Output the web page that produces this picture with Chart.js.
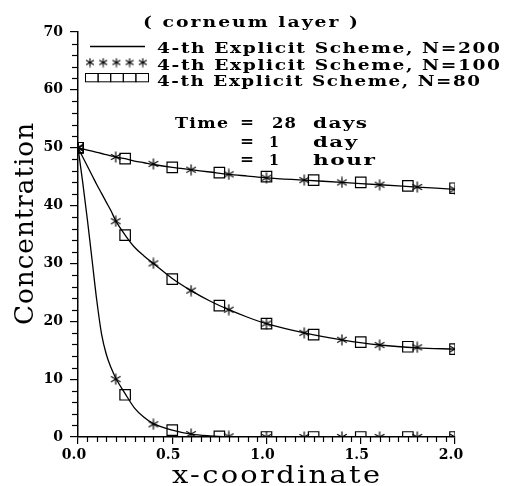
<!DOCTYPE html>
<html>
<head>
<meta charset="utf-8">
<script src="https://cdn.jsdelivr.net/npm/chart.js@4.4.0/dist/chart.umd.min.js"></script>
<style>
  html, body { margin: 0; padding: 0; background: #fff; }
</style>
</head>
<body>
<canvas id="chart" width="510" height="486"></canvas>
<script>
// ====== values ======
// solid line, N=200
const lineX   = [0, 0.025, 0.05, 0.075, 0.1, 0.125, 0.15, 0.175, 0.2, 0.25, 0.3, 0.35, 0.4, 0.5, 0.6, 0.7, 0.8, 0.9, 1.0, 1.2, 1.4, 1.6, 1.8, 2.0];
const line28d = [50, 49.8, 49.6, 49.4, 49.2, 49.0, 48.8, 48.6, 48.4, 48.1, 47.7, 47.4, 47.1, 46.6, 46.2, 45.8, 45.4, 45.1, 44.8, 44.4, 44.0, 43.6, 43.2, 42.8];
const line1d  = [50, 48.4, 46.8, 45.2, 43.6, 42.1, 40.6, 39.1, 37.4, 34.9, 32.8, 31.3, 30.0, 27.4, 25.3, 23.5, 22.0, 20.7, 19.6, 18.0, 16.8, 15.9, 15.4, 15.2];
const line1h  = [50, 44.0, 37.5, 30.5, 23.5, 17.8, 14.3, 12.0, 10.2, 7.5, 5.0, 3.4, 2.3, 1.2, 0.5, 0.2, 0.05, 0, 0, 0, 0, 0, 0, 0];

// stars, N=100
const starX   = [0, 0.2, 0.4, 0.6, 0.8, 1.0, 1.2, 1.4, 1.6, 1.8, 2.0];
const star28d = [50, 48.4, 47.2, 46.2, 45.4, 44.8, 44.4, 44.0, 43.6, 43.2, 42.8];
const star1d  = [50, 37.3, 30.0, 25.3, 22.0, 19.6, 18.0, 16.8, 15.9, 15.5, 15.2];
const star1h  = [50, 10.0, 2.2, 0.5, 0.1, 0, 0, 0, 0, 0, 0];

// squares, N=80
const squareX   = [0, 0.25, 0.5, 0.75, 1.0, 1.25, 1.5, 1.75, 2.0];
const square28d = [50, 48.1, 46.6, 45.7, 45.0, 44.4, 44.0, 43.4, 43.0];
const square1d  = [50, 34.9, 27.3, 22.7, 19.6, 17.7, 16.4, 15.6, 15.2];
const square1h  = [50, 7.3, 1.2, 0.1, 0, 0, 0, 0, 0];

const legendLabels = ["4-th Explicit Scheme, N=200", "4-th Explicit Scheme, N=100", "4-th Explicit Scheme, N=80"];
const timeNums  = ["28", "1", "1"];
const timeUnits = ["days", "day", "hour"];
const xTitle = "x-coordinate";
const yTitle = "Concentration";
const topTitle = "( corneum layer )";
// ===============================================

const SERIF = "'DejaVu Serif', 'Liberation Serif', serif";

function pairs(xs, ys) {
  return xs.map((x, i) => ({ x: x, y: ys[i] }));
}

// asterisk marker
function makeStar(size, lw) {
  const c = document.createElement("canvas");
  c.width = size; c.height = size;
  const g = c.getContext("2d");
  const r = size / 2 - 0.5;
  g.strokeStyle = "#000";
  g.lineWidth = lw;
  g.translate(size / 2, size / 2);
  [90, 30, -30].forEach(a => {
    const t = a * Math.PI / 180;
    g.beginPath();
    g.moveTo(-Math.cos(t) * r, -Math.sin(t) * r);
    g.lineTo(Math.cos(t) * r, Math.sin(t) * r);
    g.stroke();
  });
  return c;
}
const starImg = makeStar(12, 1.2);
const legendStar = makeStar(10, 1.1);

function lineSet(data) {
  return { data: data, borderColor: "#000", borderWidth: 1.3, pointRadius: 0,
           cubicInterpolationMode: "monotone", fill: false };
}
function starSet(data) {
  return { data: data, showLine: false, pointStyle: starImg, pointRadius: 6 };
}
function squareSet(data) {
  return { data: data, showLine: false, pointStyle: "rect", pointRadius: 7.4,
           borderColor: "#000", borderWidth: 1.2, backgroundColor: "rgba(0,0,0,0)" };
}

// draw text widened (small letter spacing + horizontal stretch) to a given width
function wideText(ctx, str, x, y, width, font, ls) {
  ls = ls || 0;
  ctx.save();
  ctx.font = font;
  ctx.letterSpacing = ls + "px";
  ctx.textAlign = "left";
  ctx.textBaseline = "alphabetic";
  const w = ctx.measureText(str).width - ls;
  ctx.translate(x, y);
  ctx.scale(width / w, 1);
  ctx.fillText(str, 0, 0);
  ctx.restore();
}

// minor ticks, legend, titles
const decorations = {
  id: "decorations",
  afterDraw(chart) {
    const ctx = chart.ctx;
    const xs = chart.scales.x, ys = chart.scales.y;
    ctx.save();
    ctx.strokeStyle = "#000";
    ctx.fillStyle = "#000";
    ctx.lineWidth = 1.2;

    // minor ticks
    const bottom = ys.getPixelForValue(0);
    const left = xs.getPixelForValue(0);
    for (let i = 1; i < 40; i++) {
      if (i % 10 === 0) continue;
      const px = Math.round(xs.getPixelForValue(i * 0.05)) + 0.5;
      ctx.beginPath(); ctx.moveTo(px, bottom); ctx.lineTo(px, bottom + 5); ctx.stroke();
    }
    for (let v = 2; v < 70; v += 2) {
      if (v % 10 === 0) continue;
      const py = Math.round(ys.getPixelForValue(v)) + 0.5;
      ctx.beginPath(); ctx.moveTo(left - 1, py); ctx.lineTo(left - 6, py); ctx.stroke();
    }

    // top title + legend
    wideText(ctx, topTitle, 143, 27, 215, "bold 14px " + SERIF, 1.5);
    legendLabels.forEach((t, i) => {
      wideText(ctx, t, 157, [53, 69.5, 86][i], i === 2 ? 323 : 343, "bold 14px " + SERIF, 1.2);
    });
    ctx.lineWidth = 1.3;
    ctx.beginPath(); ctx.moveTo(90, 46.5); ctx.lineTo(145, 46.5); ctx.stroke();
    for (let k = 0; k < 5; k++) {
      ctx.drawImage(legendStar, 85 + k * 13.2, 57.5);
    }
    ctx.lineWidth = 1;
    for (let k = 0; k < 5; k++) {
      ctx.strokeRect(85.5 + k * 12.6, 73.5, 12.6, 8.3);
    }

    // time annotation
    const f = "bold 14px " + SERIF;
    wideText(ctx, "Time", 175, 128, 53, f, 1);
    [128, 147, 165].forEach((by, i) => {
      wideText(ctx, "=", 240, by - 1, 14, f, 0);
      wideText(ctx, timeNums[i], i === 0 ? 272 : 269, by, i === 0 ? 24 : 10, f, 1);
      wideText(ctx, timeUnits[i], 313, by, [54, 44, 62][i], f, 1);
    });

    // axis titles
    wideText(ctx, xTitle, 172, 483, 208, "25px " + SERIF, 2);
    ctx.translate(33, 325);
    ctx.rotate(-Math.PI / 2);
    wideText(ctx, yTitle, 0, 0, 202, "26px " + SERIF, 1);
    ctx.restore();
  }
};

const tickFont = { family: SERIF, size: 14, weight: "bold" };

new Chart(document.getElementById("chart"), {
  type: "line",
  data: {
    datasets: [
      lineSet(pairs(lineX, line28d)),
      lineSet(pairs(lineX, line1d)),
      lineSet(pairs(lineX, line1h)),
      starSet(pairs(starX, star28d)),
      starSet(pairs(starX, star1d)),
      starSet(pairs(starX, star1h)),
      squareSet(pairs(squareX, square28d)),
      squareSet(pairs(squareX, square1d)),
      squareSet(pairs(squareX, square1h)),
    ]
  },
  options: {
    responsive: false,
    animation: false,
    devicePixelRatio: 1,
    layout: { padding: { top: 32, right: 55, left: 0, bottom: 0 } },
    plugins: { legend: { display: false }, tooltip: { enabled: false } },
    scales: {
      x: {
        type: "linear", min: 0, max: 2,
        afterFit: s => { s.height = 49; },
        border: { color: "#000", width: 1.5 },
        grid: { drawOnChartArea: false, color: "#000", tickLength: 7, lineWidth: 1.2 },
        ticks: { stepSize: 0.5, autoSkip: false, maxRotation: 0, color: "#000", font: tickFont,
                 padding: 3, labelOffset: -4, callback: v => v.toFixed(1) }
      },
      y: {
        type: "linear", min: 0, max: 70,
        afterFit: s => { s.width = 78; },
        border: { color: "#000", width: 1.5 },
        grid: { drawOnChartArea: false, color: "#000", tickLength: 8, lineWidth: 1.2 },
        ticks: { stepSize: 10, autoSkip: false, color: "#000", font: tickFont, padding: 7 }
      }
    }
  },
  plugins: [decorations]
});
</script>
</body>
</html>
